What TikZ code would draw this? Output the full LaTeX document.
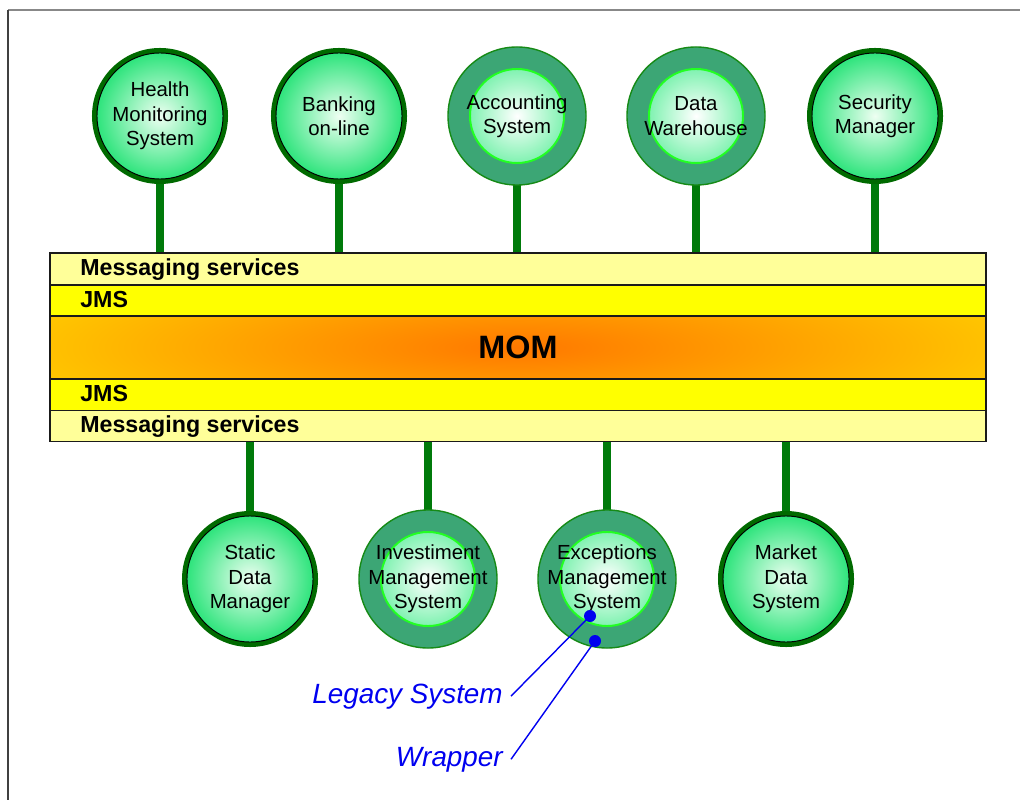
\documentclass[tikz,border=0pt]{standalone}
\usepackage{fontspec}
\setmainfont{Liberation Sans}
\pgfdeclarelayer{background}
\pgfsetlayers{background,main}
\definecolor{ringgreen}{HTML}{006A00}
\definecolor{stemgreen}{HTML}{007A0A}
\definecolor{aInner}{HTML}{EEFFF2}
\definecolor{aOuter}{HTML}{2EE47C}
\definecolor{bFill}{HTML}{3CA675}
\definecolor{bBorder}{HTML}{168A16}
\definecolor{bInnerOuter}{HTML}{44EC8C}
\definecolor{bRing}{HTML}{22FF22}
\definecolor{msgcol}{HTML}{FFFF99}
\definecolor{jmscol}{HTML}{FFFF00}
\definecolor{momin}{HTML}{FF7800}
\definecolor{momout}{HTML}{FFC600}
\definecolor{barline}{HTML}{1A1A1A}
\definecolor{calloutblue}{HTML}{0000F0}
\definecolor{frametop}{HTML}{888888}
\definecolor{frameleft}{HTML}{404040}
\newcommand\mycircfont{\fontsize{14.5}{17.4}\selectfont}
\newcommand\mybandfont{\bfseries\fontsize{16.5}{19}\selectfont}
\newcommand\mycalloutfont{\itshape\fontsize{19.8}{24}\selectfont}
\tikzset{
  circA/.style={circle, minimum size=3.15cm, inner sep=0pt, outer sep=0pt,
    draw=black, line width=0.7pt, shade, inner color=aInner, outer color=aOuter,
    preaction={draw=ringgreen, line width=7.1pt},
    align=center, font=\mycircfont, text=black,
    execute at begin node={\rule{0pt}{16pt}}},
  circB/.style={circle, minimum size=3.45cm, inner sep=0pt, outer sep=0pt,
    draw=bBorder, line width=1pt, fill=bFill,
    path picture={
      \shade[inner color=white, outer color=bInnerOuter] (path picture bounding box.center) circle (1.175cm);
      \draw[bRing, line width=1.4pt] (path picture bounding box.center) circle (1.175cm);},
    align=center, font=\mycircfont, text=black,
    execute at begin node={\rule{0pt}{16pt}}},
  band/.style={rectangle, draw=barline, line width=1pt, minimum width=23.4cm, inner sep=0pt, outer sep=0pt},
  momband/.style={band, fill=momout,
    path picture={
      \shade[inner color=momin, outer color=momout] (path picture bounding box.center) ellipse (12.5cm and 2.2cm);}},
  bandlabel/.style={anchor=base west, inner sep=0pt, font=\mybandfont, text=black},
  stem/.style={draw=stemgreen, line width=5.7pt, line cap=round},
  callout/.style={anchor=base east, inner ysep=0pt, inner xsep=5.7pt, font=\mycalloutfont, text=calloutblue},
  calloutline/.style={draw=calloutblue, line width=1pt},
  bluedot/.style={circle, fill=calloutblue, inner sep=0pt, minimum size=0.3cm},
}
\begin{document}
\begin{tikzpicture}[x=0.025cm, y=-0.025cm]
\useasboundingbox (0,0) rectangle (1020,800);
% frame
\draw[frametop, line width=0.8pt] (8,10) -- (1020,10);
\draw[frameleft, line width=0.8pt] (8,10) -- (8,800);
% bar
\node[band, fill=msgcol, minimum height=0.8cm] (ms1) at (518,269) {};
\node[band, fill=jmscol, minimum height=0.775cm] (jms1) at (518,300.5) {};
\node[momband, minimum height=1.575cm,
      font=\bfseries\fontsize{23}{27}\selectfont] (mom) at (518,347.5) {MOM};
\node[band, fill=jmscol, minimum height=0.8cm] (jms2) at (518,395) {};
\node[band, fill=msgcol, minimum height=0.775cm] (ms2) at (518,426) {};
\node[bandlabel] (lms1) at (80,276) {Messaging services};
\node[bandlabel] (ljms1) at (80,308) {JMS};
\node[bandlabel] (ljms2) at (80,402) {JMS};
\node[bandlabel] (lms2) at (80,433) {Messaging services};
% top systems
\node[circA] (health) at (160,116) {Health\\Monitoring\\System};
\node[circA] (banking) at (339,116) {Banking\\on-line};
\node[circB] (accounting) at (517,116) {Accounting\\System};
\node[circB] (datawh) at (696,116) {Data\\Warehouse};
\node[circA] (security) at (875,116) {Security\\Manager};
% bottom systems
\node[circA] (static) at (250,579) {Static\\Data\\Manager};
\node[circB] (invest) at (428,579) {Investiment\\Management\\System};
\node[circB] (except) at (607,579) {Exceptions\\Management\\System};
\node[circA] (market) at (786,579) {Market\\Data\\System};
% stems
\begin{pgfonlayer}{background}
\foreach \n in {health,banking,accounting,datawh,security}
  \draw[stem] (\n.center) -- (\n.center |- ms1.north);
\foreach \n in {static,invest,except,market}
  \draw[stem] (\n.center) -- (\n.center |- ms2.south);
\end{pgfonlayer}
% callouts
\node[bluedot] (legdot) at (590,616) {};
\node[bluedot] (wrapdot) at (595,641) {};
\node[callout] (legacy) at (511,703) {Legacy System};
\node[callout] (wrapper) at (511,766) {Wrapper};
\draw[calloutline] (legacy.east) -- (legdot.center);
\draw[calloutline] (wrapper.east) -- (wrapdot.center);
\end{tikzpicture}
\end{document}
